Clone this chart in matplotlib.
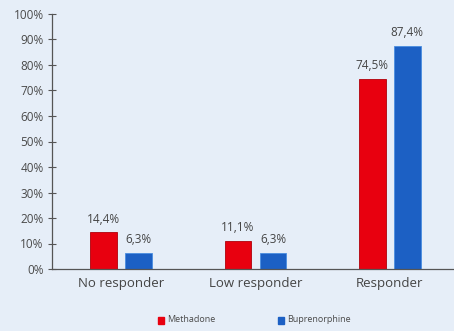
import numpy as np
import matplotlib.pyplot as plt
from matplotlib.patches import Rectangle

# Chart values
categories = ["No responder", "Low responder", "Responder"]
methadone = [14.4, 11.1, 74.5]
buprenorphine = [6.3, 6.3, 87.4]
series_names = ["Methadone", "Buprenorphine"]
yticks = list(range(0, 101, 10))

bg = "#e6eef8"
red = "#e8000f"
blue = "#1c60c4"
txt = "#4a4a4a"

plt.rcParams["font.family"] = ["Open Sans", "DejaVu Sans"]

fig = plt.figure(figsize=(4.54, 3.31), dpi=100, facecolor=bg)
ax = fig.add_axes([52 / 454, 62 / 331, 405 / 454, 255 / 331])
ax.set_facecolor(bg)

x = np.arange(len(categories))
w = 0.2
b1 = ax.bar(x - 0.13, methadone, w, color=red, edgecolor="#b0000a", linewidth=0.6)
b2 = ax.bar(x + 0.13, buprenorphine, w, color=blue, edgecolor="#4a8ee0", linewidth=0.6)

for bars, vals in ((b1, methadone), (b2, buprenorphine)):
    for bar, v in zip(bars, vals):
        ax.text(bar.get_x() + bar.get_width() / 2, v + 2.6, f"{v:.1f}%".replace(".", ","),
                ha="center", va="bottom", fontsize=8.5, color="#444444")

ax.set_xlim(-0.515, 2.5)
ax.set_ylim(0, 100)
ax.set_yticks(yticks)
ax.set_yticklabels([f"{t}%" for t in yticks], fontsize=8.5, color=txt)
ax.set_xticks(x)
ax.set_xticklabels(categories, fontsize=9.5, color="#444444")
ax.tick_params(axis="y", direction="inout", length=6, width=0.8, color="#555555", pad=3)
ax.tick_params(axis="x", length=0, pad=6)
for s in ("top", "right"):
    ax.spines[s].set_visible(False)
for s in ("left", "bottom"):
    ax.spines[s].set_color("#555555")
    ax.spines[s].set_linewidth(0.9)

# legend along the bottom
fig.patches.append(Rectangle((158 / 454, 1 - 324 / 331), 6 / 454, 7 / 331,
                             transform=fig.transFigure, color=red))
fig.text(167 / 454, 1 - 320 / 331, series_names[0], fontsize=6.5, color=txt, va="center")
fig.patches.append(Rectangle((278 / 454, 1 - 324 / 331), 6 / 454, 7 / 331,
                             transform=fig.transFigure, color=blue))
fig.text(287 / 454, 1 - 320 / 331, series_names[1], fontsize=6.5, color=txt, va="center")

fig.savefig("out.png", dpi=100, facecolor=bg)
